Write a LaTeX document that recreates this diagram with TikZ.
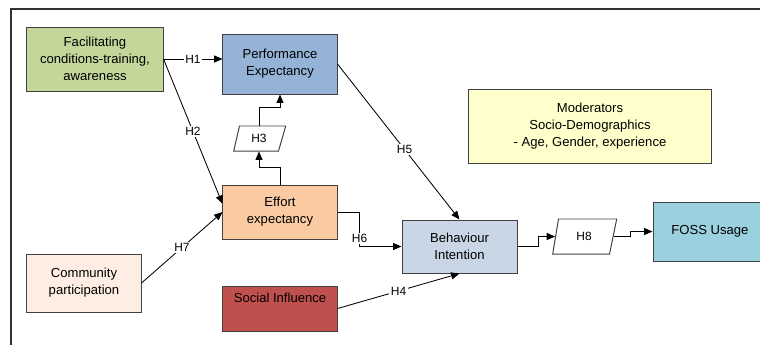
\documentclass[tikz,border=0pt]{standalone}
\usepackage{fontspec}
\setmainfont{Liberation Sans}
\usetikzlibrary{arrows.meta,shapes.geometric}
\definecolor{cFacil}{RGB}{196,215,155}
\definecolor{cPerf}{RGB}{149,179,215}
\definecolor{cEffort}{RGB}{250,203,162}
\definecolor{cComm}{RGB}{253,237,226}
\definecolor{cSocial}{RGB}{192,80,77}
\definecolor{cBehav}{RGB}{200,214,230}
\definecolor{cFoss}{RGB}{155,208,222}
\definecolor{cMod}{RGB}{255,255,204}
\definecolor{cEdge}{RGB}{64,64,64}

\begin{document}
\begin{tikzpicture}[x=0.025cm, y=-0.025cm, >={Triangle[length=6pt,width=5pt]},
    box/.style={draw=cEdge, line width=0.7pt, align=center, font=\fontsize{9.3}{12}\selectfont},
    hyp/.style={draw=cEdge, line width=0.7pt, trapezium, trapezium left angle=72,
      trapezium right angle=112, trapezium stretches body, font=\fontsize{8.5}{10}\selectfont},
    link/.style={line width=0.6pt},
    tag/.style={fill=white, inner sep=1pt, font=\fontsize{8.5}{10}\selectfont}]
  \useasboundingbox (0,0) rectangle (760,345);
  \clip (0,0) rectangle (760,345);
  \draw[line width=1pt, black!80] (760,9) -| (11,345);

  \node[box, fill=cFacil, minimum width=3.4cm, minimum height=1.6cm] (fc) at (95,59) {Facilitating\\conditions-training,\\awareness};
  \node[box, fill=cPerf, minimum width=2.85cm, minimum height=1.5cm] (pe) at (280,64) {Performance\\Expectancy};
  \node[hyp, minimum width=1.3cm, minimum height=0.625cm] (h3) at (259,138.5) {H3};
  \node[box, fill=cEffort, minimum width=2.85cm, minimum height=1.35cm] (ee) at (280,212) {Effort\\expectancy};
  \node[box, fill=cComm, minimum width=2.85cm, minimum height=1.45cm] (cp) at (84,283) {Community\\participation};
  \node[box, fill=cSocial, minimum width=2.85cm, minimum height=1.125cm, text depth=16pt] (si) at (280,308.5) {Social Influence};
  \node[box, fill=cBehav, minimum width=2.875cm, minimum height=1.325cm] (bi) at (459.5,246.5) {Behaviour\\Intention};
  \node[hyp, minimum width=1.6cm, minimum height=0.875cm] (h8) at (584,236.5) {H8};
  \node[box, fill=cFoss, minimum width=2.85cm, minimum height=1.475cm] (fu) at (710,231.5) {FOSS Usage};
  \node[box, fill=cMod, minimum width=6.05cm, minimum height=1.85cm] (md) at (590,126) {Moderators\\Socio-Demographics\\- Age, Gender, experience};

  \draw[link, ->] (fc.east) -- (fc.east -| pe.west) node[tag, midway] {H1};
  \draw[link, ->] (fc.east) -- (ee.172) node[tag, midway] {H2};
  \draw[link, ->] (ee.north) -- ++(0,-17) -| (h3.south);
  \draw[link, ->] (h3.north) -- ++(0,-18) -| (pe.south);
  \draw[link, ->] (pe.east) -- (bi.north) node[tag, pos=0.55] {H5};
  \draw[link, ->] (ee.east) -- ++(22,0) |- (bi.west) node[tag, pos=0.38] {H6};
  \draw[link, ->] (cp.east) -- (ee.west) node[tag, midway] {H7};
  \draw[link, ->] (si.east) -- (bi.south) node[tag, midway] {H4};
  \draw[link, ->] (bi.east) -- ++(21,0) |- (h8.west);
  \draw[link, ->] (h8.east) -- ++(17,0) |- (fu.west);
\end{tikzpicture}
\end{document}
